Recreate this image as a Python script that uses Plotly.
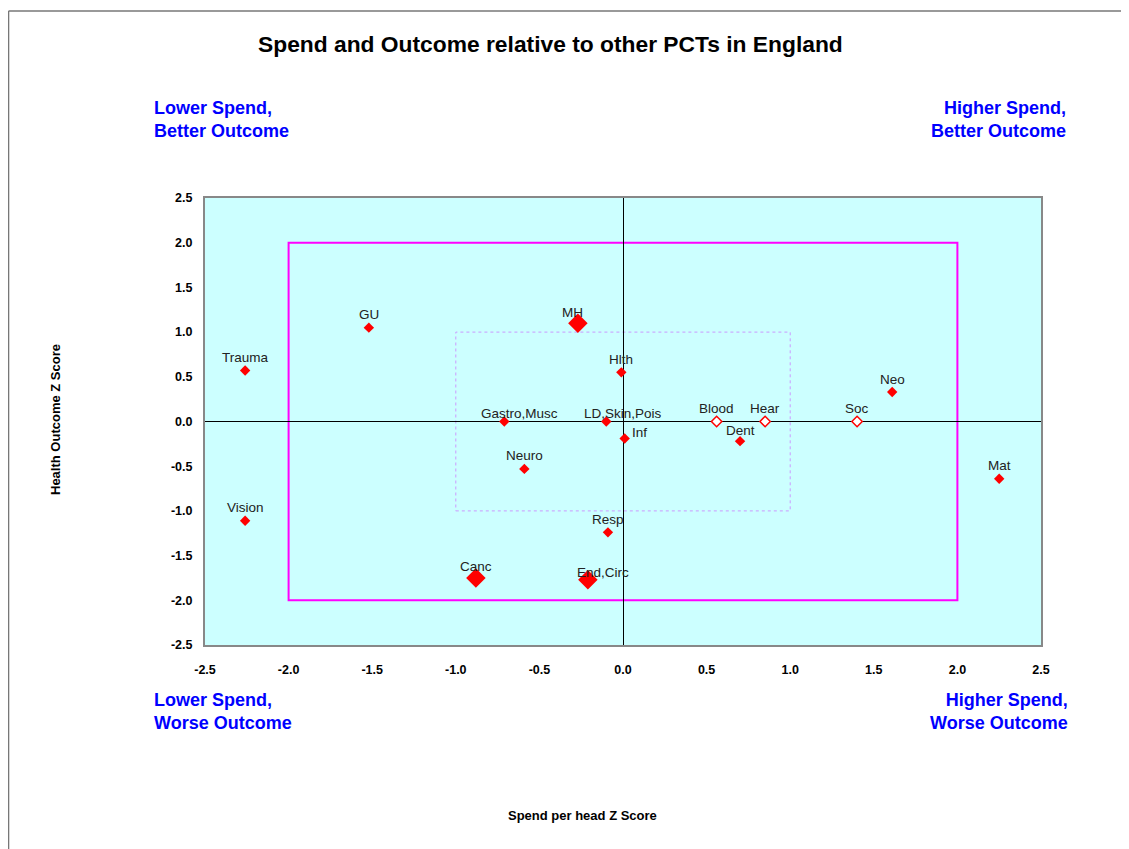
import plotly.graph_objects as go

# Data
names = ["GU", "Trauma", "MH", "Hlth", "Gastro,Musc", "LD,Skin,Pois", "Inf", "Neuro",
         "Blood", "Hear", "Dent", "Soc", "Neo", "Mat", "Vision", "Resp", "Canc", "End,Circ"]
spend_z = [-1.52, -2.26, -0.27, -0.01, -0.71, -0.10, 0.01, -0.59,
           0.56, 0.85, 0.70, 1.40, 1.61, 2.25, -2.26, -0.09, -0.88, -0.21]
outcome_z = [1.05, 0.57, 1.10, 0.55, 0.0, 0.0, -0.19, -0.53,
             0.0, 0.0, -0.22, 0.0, 0.33, -0.64, -1.11, -1.24, -1.75, -1.77]
kind = ["small", "small", "large", "small", "small", "small", "small", "small",
        "open", "open", "small", "open", "small", "small", "small", "small", "large", "large"]

tick_vals = [-2.5, -2.0, -1.5, -1.0, -0.5, 0.0, 0.5, 1.0, 1.5, 2.0, 2.5]
tick_text = [f"{v:.1f}" for v in tick_vals]

# label offsets (pixels), styling only
label_shift = {
    "MH": (-5, 11), "Gastro,Musc": (15, 8), "LD,Skin,Pois": (17, 8), "Inf": (15, 6),
    "Dent": (0, 11), "Canc": (0, 11), "End,Circ": (15, 7),
}

FONT = "Arial, Liberation Sans, sans-serif"

fig = go.Figure()

styles = {
    "small": dict(symbol="diamond", size=8, color="#FF0000", line=dict(color="#FF0000", width=0)),
    "large": dict(symbol="diamond", size=15, color="#FF0000", line=dict(color="#FF0000", width=0)),
    "open": dict(symbol="diamond", size=8, color="#FFFFFF", line=dict(color="#FF0000", width=1.5)),
}
for k, st in styles.items():
    idx = [i for i, kk in enumerate(kind) if kk == k]
    fig.add_trace(go.Scatter(
        x=[spend_z[i] for i in idx], y=[outcome_z[i] for i in idx],
        text=[names[i] for i in idx], hoverinfo="text",
        mode="markers", marker=st, showlegend=False, cliponaxis=False,
    ))

ann = []
for n, xv, yv in zip(names, spend_z, outcome_z):
    dx, dy = label_shift.get(n, (0, 13))
    ann.append(dict(text=n, x=xv, y=yv, xref="x", yref="y", xshift=dx, yshift=dy,
                    xanchor="center", yanchor="middle", showarrow=False,
                    font=dict(family=FONT, size=13.5, color="#222222")))

# Boundary boxes
fig.add_shape(type="rect", x0=-2, x1=2, y0=-2, y1=2, xref="x", yref="y",
              line=dict(color="#FF00FF", width=2), layer="below")
fig.add_shape(type="rect", x0=-1, x1=1, y0=-1, y1=1, xref="x", yref="y",
              line=dict(color="#CC99FF", width=1, dash="dot"), layer="below")

# Page border
fig.add_shape(type="line", xref="paper", yref="paper", x0=-0.2350, x1=-0.2350, y0=-0.48, y1=1.4183,
              line=dict(color="#777777", width=1.5))
fig.add_shape(type="line", xref="paper", yref="paper", x0=-0.2350, x1=1.13, y0=1.4183, y1=1.4183,
              line=dict(color="#777777", width=1.5))

texts = [
    dict(text="<b>Spend and Outcome relative to other PCTs in England</b>", x=0.4127, y=1.3445,
         xanchor="center", yanchor="middle", font=dict(family=FONT, size=22.8, color="black")),
    dict(text="<b>Lower Spend,<br>Better Outcome</b>", x=-0.0634, y=1.175, xanchor="left", align="left",
         yanchor="middle", font=dict(family=FONT, size=18, color="#0000FF")),
    dict(text="<b>Higher Spend,<br>Better Outcome</b>", x=1.0323, y=1.175, xanchor="right", align="right",
         yanchor="middle", font=dict(family=FONT, size=18, color="#0000FF")),
    dict(text="<b>Lower Spend,<br>Worse Outcome</b>", x=-0.0634, y=-0.1480, xanchor="left", align="left",
         yanchor="middle", font=dict(family=FONT, size=18, color="#0000FF")),
    dict(text="<b>Higher Spend,<br>Worse Outcome</b>", x=1.0347, y=-0.1480, xanchor="right", align="right",
         yanchor="middle", font=dict(family=FONT, size=18, color="#0000FF")),
    dict(text="<b>Spend per head Z Score</b>", x=(582 - 205) / 836, y=(645 - 815) / 447,
         xanchor="center", yanchor="middle", font=dict(family=FONT, size=13, color="black")),
    dict(text="<b>Health Outcome Z Score</b>", x=(55 - 205) / 836, y=(645 - 420) / 447, textangle=-90,
         xanchor="center", yanchor="middle", font=dict(family=FONT, size=13, color="black")),
]
for a in texts:
    a.update(xref="paper", yref="paper", showarrow=False)
fig.update_layout(annotations=ann + texts)

axis_common = dict(
    tickvals=tick_vals, ticktext=tick_text, showgrid=False,
    zeroline=True, zerolinecolor="black", zerolinewidth=1,
    showline=True, linecolor="#888888", linewidth=2, mirror=True,
    ticks="", tickfont=dict(family=FONT, size=12.5, color="black", weight="bold"),
)
fig.update_xaxes(range=[-2.5, 2.5], ticklabelstandoff=12, **axis_common)
fig.update_yaxes(range=[-2.5, 2.5], ticklabelstandoff=8, **axis_common)

fig.update_layout(
    width=1129, height=849,
    margin=dict(l=197, r=96, t=190, b=212),
    plot_bgcolor="#CCFFFF", paper_bgcolor="white",
    font=dict(family=FONT),
)

fig.write_html("out.html")
